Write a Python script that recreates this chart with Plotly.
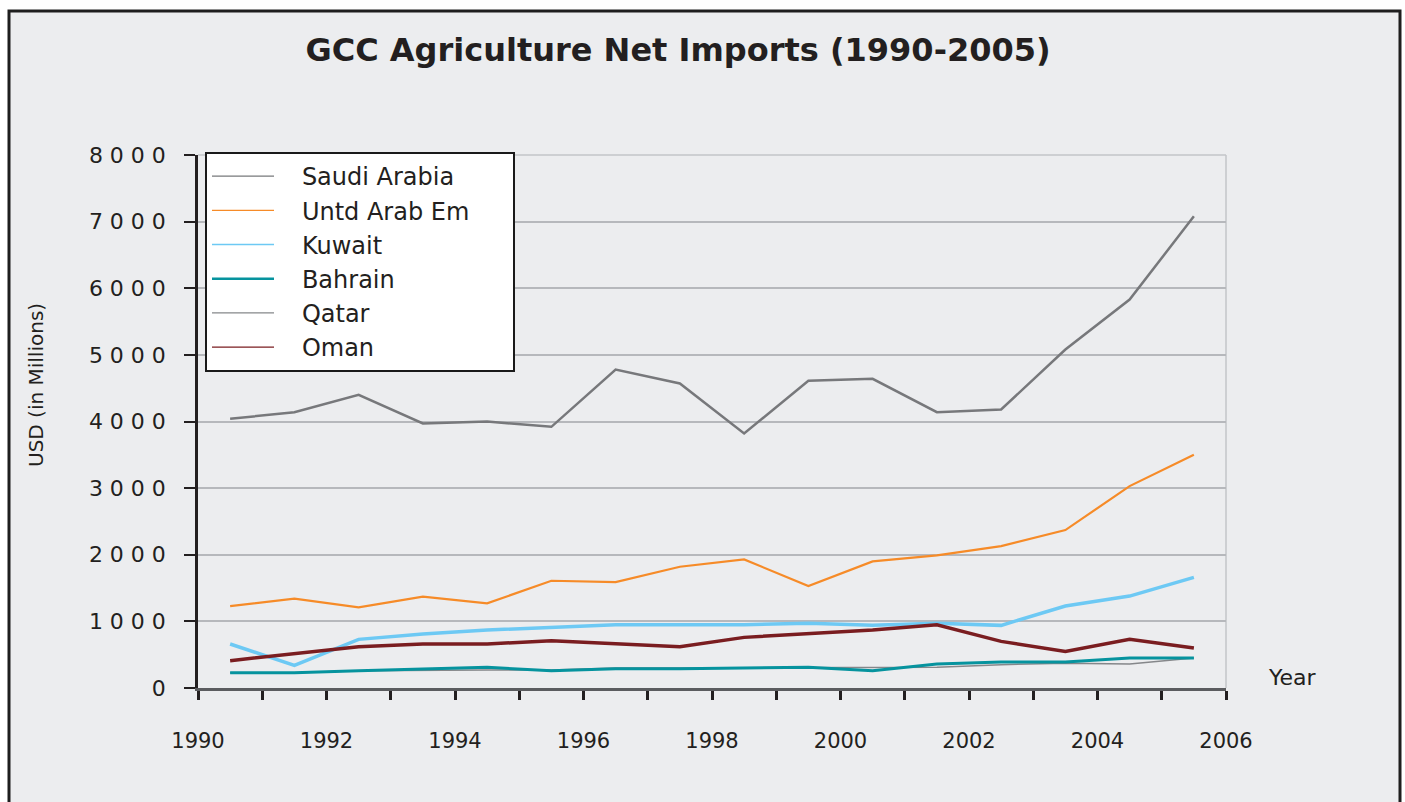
import plotly.graph_objects as go

# GCC agricultural net imports, USD millions (values plotted at mid-year)
years = list(range(1990, 2006))
saudi_arabia = [4040, 4140, 4400, 3970, 4000, 3920, 4780, 4570, 3820, 4610, 4640, 4140, 4180, 5080, 5830, 7080]
uae = [1230, 1340, 1210, 1370, 1270, 1610, 1590, 1820, 1930, 1530, 1900, 1990, 2130, 2370, 3030, 3500]
kuwait = [660, 340, 730, 810, 870, 910, 950, 950, 950, 970, 940, 970, 940, 1230, 1380, 1660]
bahrain = [230, 230, 260, 280, 310, 260, 290, 290, 300, 310, 260, 360, 390, 390, 450, 450]
qatar = [230, 230, 260, 270, 270, 270, 300, 300, 300, 310, 300, 310, 350, 370, 360, 450]
oman = [410, 510, 620, 660, 660, 710, 660, 620, 760, 810, 870, 950, 700, 550, 730, 600]

x_tick_years = list(range(1990, 2007))
x_tick_text = [str(y) if y % 2 == 0 else "" for y in x_tick_years]
y_tick_vals = [0, 1000, 2000, 3000, 4000, 5000, 6000, 7000, 8000]
y_tick_text = ["0", "1 0 0 0", "2 0 0 0", "3 0 0 0", "4 0 0 0", "5 0 0 0", "6 0 0 0", "7 0 0 0", "8 0 0 0"]

FONT = "DejaVu Sans, Liberation Sans, Arial, sans-serif"
BG = "#ECEDEF"
TEXT = "#231F20"
NBSP = "\u00a0"

# (name, values, colour, plotted width, legend sample width)
series = [
    ("Saudi Arabia", saudi_arabia, "#77787B", 2.5, 1.3),
    ("Untd Arab Em", uae, "#F68B28", 2.2, 1.3),
    ("Kuwait", kuwait, "#6DC9F4", 3.5, 1.3),
    ("Bahrain", bahrain, "#06939E", 3.0, 2.6),
    ("Qatar", qatar, "#85878A", 1.5, 1.3),
    ("Oman", oman, "#7A1D20", 3.5, 1.3),
]
draw_order = ["Saudi Arabia", "Untd Arab Em", "Kuwait", "Qatar", "Bahrain", "Oman"]

x_mid = [y + 0.5 for y in years]

fig = go.Figure()
lookup = {s[0]: s for s in series}
for name in draw_order:
    _, vals, color, width, _ = lookup[name]
    fig.add_trace(go.Scatter(x=x_mid, y=vals, mode="lines", name=name, showlegend=False,
                             line=dict(color=color, width=width)))
# legend entries with thin sample lines; padded labels widen the legend box
longest = max(len(s[0]) for s in series)
for name, _, color, _, lw in series:
    label = NBSP * 3 + name + (NBSP * 5 if len(name) == longest else "")
    fig.add_trace(go.Scatter(x=[None], y=[None], mode="lines", name=label,
                             line=dict(color=color, width=lw)))

W, H = 1405, 802
L, R, T, B = 198, 1226, 155, 688


def px(x):
    return (x - L) / (R - L)


def py(y):
    return (B - y) / (B - T)


shapes = [
    # outer panel with dark frame
    dict(type="rect", xref="paper", yref="paper", x0=px(9), x1=px(1400), y0=py(840), y1=py(11),
         fillcolor=BG, line=dict(color="#1E1E1E", width=3), layer="below"),
    # light plot-area border at top and right
    dict(type="line", xref="paper", yref="paper", x0=0, x1=1, y0=1, y1=1,
         line=dict(color="#C3C5C9", width=1.5), layer="below"),
    dict(type="line", xref="paper", yref="paper", x0=1, x1=1, y0=0, y1=1,
         line=dict(color="#C3C5C9", width=1.5), layer="below"),
]

annotations = [
    dict(text="Year", xref="paper", yref="paper", x=px(1292), y=py(677), showarrow=False,
         font=dict(family=FONT, size=22, color=TEXT), xanchor="center", yanchor="middle"),
    dict(text="USD (in Millions)", xref="paper", yref="paper", x=px(36), y=py(385), showarrow=False,
         textangle=-90, font=dict(family=FONT, size=20, color=TEXT), xanchor="center", yanchor="middle"),
]

fig.update_layout(
    width=W, height=H,
    margin=dict(l=L, r=W - R, t=T, b=H - B),
    paper_bgcolor="white",
    plot_bgcolor="rgba(0,0,0,0)",
    title=dict(text="<b>GCC Agriculture Net Imports (1990-2005)</b>", x=678 / W,
               xanchor="center", y=1 - 50 / H, yanchor="middle", yref="container", xref="container",
               font=dict(family=FONT, size=32, color=TEXT)),
    shapes=shapes,
    annotations=annotations,
    legend=dict(x=px(205), y=py(152), xanchor="left", yanchor="top",
                bgcolor="white", bordercolor="#1A1A1A", borderwidth=2,
                font=dict(family=FONT, size=24, color=TEXT), itemwidth=62,
                tracegroupgap=0),
    xaxis=dict(range=[1990, 2006], tickmode="array", tickvals=x_tick_years, ticktext=x_tick_text,
               ticks="outside", ticklen=9, tickwidth=2.5, tickcolor=TEXT,
               showline=True, linecolor="#5B5C5F", linewidth=2.5, showgrid=False, zeroline=False,
               tickfont=dict(family=FONT, size=21, color=TEXT), ticklabelstandoff=23),
    yaxis=dict(range=[0, 8000], tickmode="array", tickvals=y_tick_vals, ticktext=y_tick_text,
               ticks="outside", ticklen=11, tickwidth=2, tickcolor=TEXT,
               showline=True, linecolor=TEXT, linewidth=2.5, showgrid=True,
               gridcolor="#B6B8BC", gridwidth=1.5, zeroline=False,
               tickfont=dict(family=FONT, size=22, color=TEXT), ticklabelstandoff=14),
)

fig.write_html("out.html")
